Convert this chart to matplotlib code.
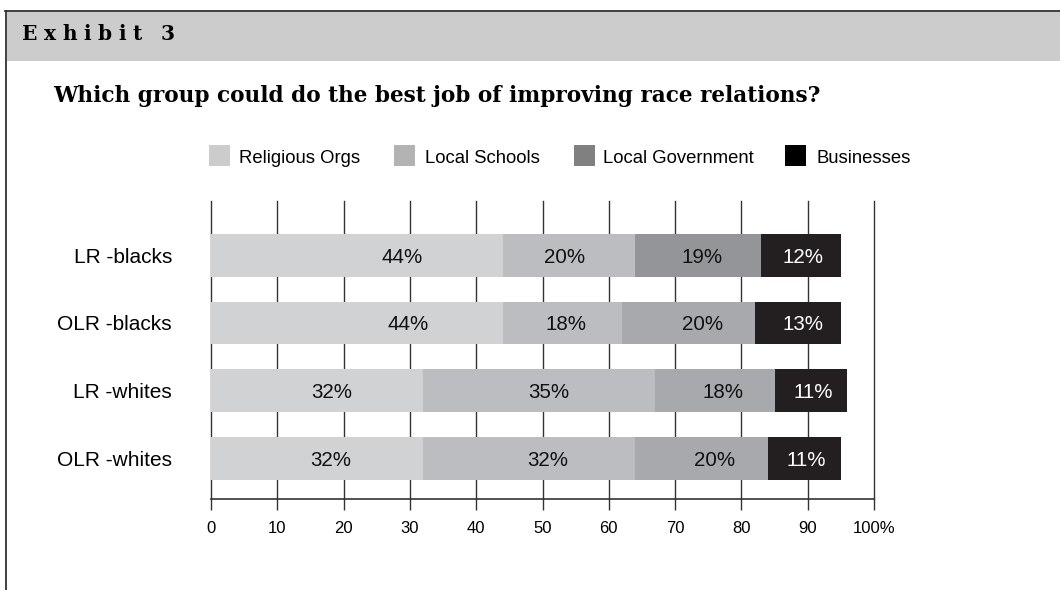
import matplotlib.pyplot as plt
from matplotlib.patches import Rectangle
from matplotlib.lines import Line2D

groups = ["LR -blacks", "OLR -blacks", "LR -whites", "OLR -whites"]
series = ["Religious Orgs", "Local Schools", "Local Government", "Businesses"]
religious = [44, 44, 32, 32]
schools = [20, 18, 35, 32]
government = [19, 20, 18, 20]
businesses = [12, 13, 11, 11]
xticks = [0, 10, 20, 30, 40, 50, 60, 70, 80, 90, 100]
xtick_labels = ["0", "10", "20", "30", "40", "50", "60", "70", "80", "90", "100%"]

legend_colors = ["#cccccc", "#b3b3b3", "#808080", "#000000"]
bar_colors = ["#d1d2d4", "#bcbdc0", "#a7a9ac", "#231f20"]
gov_first_row = "#939598"

# the value labels in the original are not exactly centred in their segments
label_nudge = [[6.8, -0.7, 0.6, 0.3],
               [7.8, 0.5, 2.2, 0.8],
               [2.2, 1.4, 1.3, 0.3],
               [2.1, 2.8, 1.9, 0.3]]

W, H = 1060, 590
plt.rcParams["font.family"] = ["Liberation Sans", "DejaVu Sans"]
fig = plt.figure(figsize=(W / 100, H / 100), dpi=100)
r = fig.canvas.get_renderer()


def fx(px):
    return px / W


def fy(py):
    return 1 - py / H


# frame: header band + top and left border
fig.patches.append(Rectangle((fx(7), fy(61)), 1, fy(11) - fy(61), transform=fig.transFigure,
                             facecolor="#cccccc", edgecolor="none"))
fig.add_artist(Line2D([fx(5), 1], [fy(11), fy(11)], transform=fig.transFigure, color="#333333", lw=1.3))
fig.add_artist(Line2D([fx(6), fx(6)], [fy(11), 0], transform=fig.transFigure, color="#333333", lw=1.3))

# letter-spaced header: glyphs placed one by one with an even gap, 22px -> 175px
head = "Exhibit 3"
glyphs = [fig.text(0, fy(40), ch, fontsize=14.5, fontweight="bold", family="DejaVu Serif",
                   va="baseline", ha="left") for ch in head]
widths = [g.get_window_extent(r).width if ch != " " else 6.5 for g, ch in zip(glyphs, head)]
gap = (175 - 22 - sum(widths)) / (len(head) - 1)
x = 22
for g, w in zip(glyphs, widths):
    g.set_x(fx(x))
    x += w + gap

title = fig.text(fx(53), fy(102), "Which group could do the best job of improving race relations?",
                 fontsize=16, fontweight="bold", family="DejaVu Serif", va="baseline", ha="left")
tw = title.get_window_extent(r).width
title.set_fontsize(16 * 769 / tw)

# legend drawn by hand to match spacing
sq_x = [209, 394, 574, 785]
txt_x = [239, 425, 603, 817]
for x0, tx, c, name in zip(sq_x, txt_x, legend_colors, series):
    fig.patches.append(Rectangle((fx(x0), fy(166)), fx(21), fy(145) - fy(166),
                                 transform=fig.transFigure, facecolor=c, edgecolor="none"))
    fig.text(fx(tx), fy(163), name, fontsize=13.3, va="baseline", ha="left")

ax = fig.add_axes([fx(211), fy(499), fx(874) - fx(211), fy(201) - fy(499)])
ypos = list(range(len(groups)))
bh = 0.63

left = [0] * len(groups)
for k, vals in enumerate([religious, schools, government, businesses]):
    cols = [bar_colors[k]] * len(groups)
    if k == 2:
        cols[0] = gov_first_row
    ax.barh(ypos, vals, left=left, height=bh, color=cols, edgecolor="none", zorder=2)
    for i, v in enumerate(vals):
        ax.text(left[i] + v / 2 + label_nudge[i][k], ypos[i] + 0.11, f"{v}%", ha="center",
                va="baseline", fontsize=14.8, color="white" if k == 3 else "#111111", zorder=3)
    left = [a + b for a, b in zip(left, vals)]

ax.set_xlim(0, 100)
ax.set_ylim(3 + 0.6, -0.8)
ax.set_xticks(xticks)
ax.set_xticklabels(xtick_labels, fontsize=12)
ax.set_yticks(ypos)
ax.set_yticklabels(groups, fontsize=15)
ax.tick_params(axis="y", length=0, pad=28)
ax.tick_params(axis="x", direction="out", length=8, width=1, color="#333333", pad=8)
ax.grid(axis="x", color="#333333", lw=1, zorder=0)
for gl in ax.get_xgridlines():
    gl.set_clip_on(False)
ax.set_axisbelow(True)
for s in ["top", "right", "left"]:
    ax.spines[s].set_visible(False)
ax.spines["bottom"].set_color("#333333")
ax.spines["bottom"].set_linewidth(1.2)

fig.savefig("out.png", dpi=100)
